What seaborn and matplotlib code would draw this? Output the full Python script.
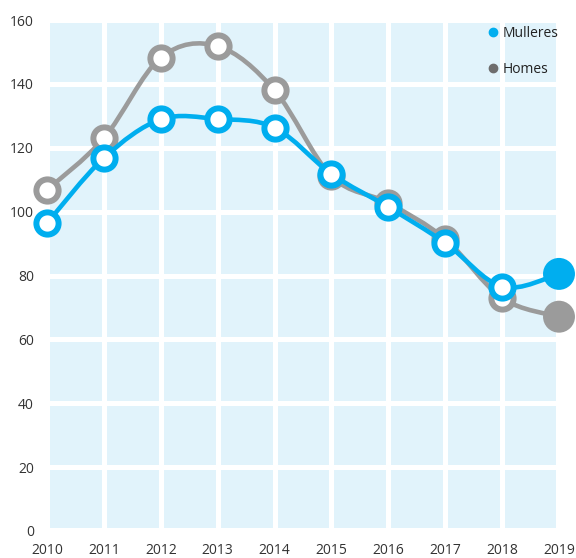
import numpy as np
import pandas as pd
import matplotlib
matplotlib.use("Agg")
import matplotlib.pyplot as plt
import seaborn as sns
from matplotlib.path import Path
from matplotlib.patches import PathPatch, Rectangle
from matplotlib.lines import Line2D

# ---- data ----
years = [2010, 2011, 2012, 2013, 2014, 2015, 2016, 2017, 2018, 2019]
mulleres = [96.4, 116.8, 128.9, 129.0, 126.3, 111.8, 101.4, 90.2, 76.5, 80.5]
homes = [106.8, 123.0, 148.2, 151.8, 138.0, 111.1, 102.7, 91.4, 72.9, 67.1]
series_labels = ["Mulleres", "Homes"]
y_ticks = [0, 20, 40, 60, 80, 100, 120, 140, 160]

BLUE = "#00aeef"
GRAY = "#9b9b9b"
GRAY_LEG = "#6d6d6d"
BG = "#e1f3fb"
TXT = "#333333"

sns.set_style("white")
plt.rcParams["font.family"] = ["Open Sans", "DejaVu Sans"]

fig = plt.figure(figsize=(5.76, 5.58), dpi=100)
ax = fig.add_axes([47 / 576, 27 / 558, 512 / 576, 511 / 558])
ax.set_xlim(2010, 2019)
ax.set_ylim(0, 160)

# background cells
dx = 3 / 56.9
dy = 3 / 3.194
ax.add_patch(Rectangle((2010 + dx, dy), 9 - 2 * dx, 160 - 2 * dy,
                       facecolor=BG, edgecolor="none", zorder=0.2))
ax.set_xticks(years)
ax.set_yticks(y_ticks)
ax.grid(True, color="white", linewidth=3.6)
ax.set_axisbelow(True)
for s in ax.spines.values():
    s.set_visible(False)
ax.tick_params(axis="both", length=0, labelsize=10, colors=TXT)
ax.tick_params(axis="x", pad=8.5)
ax.tick_params(axis="y", pad=9.5)


def spline_path(xs, ys):
    pts = np.column_stack([xs, ys]).astype(float)
    ext = np.vstack([pts[0], pts, pts[-1]])
    verts = [pts[0]]
    codes = [Path.MOVETO]
    for i in range(len(pts) - 1):
        p0, p1, p2, p3 = ext[i], ext[i + 1], ext[i + 2], ext[i + 3]
        c1 = p1 + (p2 - p0) / 6
        c2 = p2 - (p3 - p1) / 6
        verts += [c1, c2, p2]
        codes += [Path.CURVE4] * 3
    return Path(verts, codes)


def draw_series(vals, color, z):
    ax.add_patch(PathPatch(spline_path(years, vals), fill=False, edgecolor=color,
                           linewidth=3.3, zorder=z, clip_on=False,
                           capstyle="round", joinstyle="round"))
    sns.scatterplot(x=years[:-1], y=vals[:-1], s=16 ** 2, color="white",
                    edgecolor=color, linewidth=4.3, ax=ax, zorder=z + 0.1,
                    clip_on=False, legend=False)
    sns.scatterplot(x=years[-1:], y=vals[-1:], s=23 ** 2, color=color,
                    edgecolor="none", linewidth=0, ax=ax, zorder=z + 0.1,
                    clip_on=False, legend=False)


draw_series(homes, GRAY, 2)
draw_series(mulleres, BLUE, 3)

handles = [Line2D([], [], marker="o", ls="", color=BLUE, markersize=6),
           Line2D([], [], marker="o", ls="", color=GRAY_LEG, markersize=6)]
leg = ax.legend(handles, series_labels, loc="upper left",
                bbox_to_anchor=(489 / 576, 1 - 26 / 558), bbox_transform=fig.transFigure,
                frameon=False, handlelength=0.6, handletextpad=0.4, labelspacing=1.5,
                borderpad=0, borderaxespad=0, fontsize=10)
for t in leg.get_texts():
    t.set_color("#222222")
leg.set_zorder(10)

fig.savefig("out.png", dpi=100)
